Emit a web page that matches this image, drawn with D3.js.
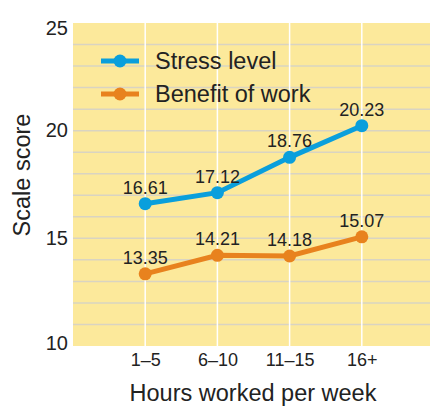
<!DOCTYPE html>
<html><head><meta charset="utf-8">
<script src="https://cdn.jsdelivr.net/npm/d3@7"></script>
<style>body{margin:0;background:#fff}svg{display:block;font-family:"Liberation Sans",Arial,sans-serif}</style>
</head><body><svg id="c" width="430" height="407"></svg>
<script>
const categories = ["1–5","6–10","11–15","16+"];
const stress = [16.61,17.12,18.76,20.23];
const benefit = [13.35,14.21,14.18,15.07];
const seriesNames = ["Stress level","Benefit of work"];
const yTicks = [10,15,20,25];

const svg = d3.select("#c");
const x = d3.scaleLinear().domain([0,5]).range([73,434]);
const y = d3.scaleLinear().domain([10,25]).range([346,23]);
const colors = ["#0a9fdc","#e8821e"];
const ink = "#222";

svg.append("rect").attr("x",x(0)).attr("y",y(25)).attr("width",x(5)-x(0)).attr("height",y(10)-y(25)).attr("fill","#fce99b");
svg.append("g").selectAll("line").data(d3.range(11,25)).join("line")
  .attr("x1",x(0)).attr("x2",x(5)).attr("y1",d=>y(d)).attr("y2",d=>y(d))
  .attr("stroke","#d9d4c2").attr("stroke-width",1.5);
svg.append("g").selectAll("line").data(categories).join("line")
  .attr("x1",(d,i)=>x(i+1)).attr("x2",(d,i)=>x(i+1)).attr("y1",y(25)).attr("y2",y(10))
  .attr("stroke","#fff").attr("stroke-width",1.5);

const yAxis = svg.append("g").attr("transform",`translate(${x(0)},0)`)
  .call(d3.axisLeft(y).tickValues(yTicks).tickSize(0).tickPadding(5));
yAxis.select(".domain").remove();
yAxis.selectAll(".tick").attr("transform",d=>`translate(0,${Math.max(29,Math.min(343.5,y(d)))})`);
yAxis.selectAll("text").attr("font-size",20).attr("fill",ink).attr("font-family","Liberation Sans, Arial, sans-serif");

const xAxis = svg.append("g").attr("transform",`translate(0,${y(10)})`)
  .call(d3.axisBottom(x).tickValues([1,2,3,4]).tickFormat((d)=>categories[d-1]).tickSize(0).tickPadding(7));
xAxis.select(".domain").remove();
xAxis.selectAll("text").attr("font-size",18).attr("fill",ink).attr("font-family","Liberation Sans, Arial, sans-serif");

[stress,benefit].forEach((vals,s)=>{
  const line = d3.line().x((d,i)=>x(i+1)).y(d=>y(d));
  svg.append("path").datum(vals).attr("d",line).attr("fill","none").attr("stroke",colors[s]).attr("stroke-width",5);
  svg.append("g").selectAll("circle").data(vals).join("circle")
    .attr("cx",(d,i)=>x(i+1)).attr("cy",d=>y(d)).attr("r",6.5).attr("fill",colors[s]);
  svg.append("g").selectAll("text").data(vals).join("text")
    .attr("x",(d,i)=>x(i+1)).attr("y",d=>y(d)-10).attr("text-anchor","middle")
    .attr("font-size",18).attr("fill",ink).text(d=>d.toFixed(2));
});

const leg = svg.append("g");
seriesNames.forEach((n,i)=>{
  const ly = 61 + i*33;
  leg.append("line").attr("x1",101).attr("x2",139).attr("y1",ly).attr("y2",ly).attr("stroke",colors[i]).attr("stroke-width",5);
  leg.append("circle").attr("cx",120).attr("cy",ly).attr("r",6.5).attr("fill",colors[i]);
  leg.append("text").attr("x",155).attr("y",ly+7.5).attr("font-size",23.5).attr("fill",ink).text(n);
});

svg.append("text").attr("transform","translate(30,175) rotate(-90)").attr("text-anchor","middle")
  .attr("font-size",23.5).attr("fill",ink).text("Scale score");
svg.append("text").attr("x",253).attr("y",401).attr("text-anchor","middle")
  .attr("font-size",23.5).attr("fill",ink).text("Hours worked per week");
</script></body></html>
